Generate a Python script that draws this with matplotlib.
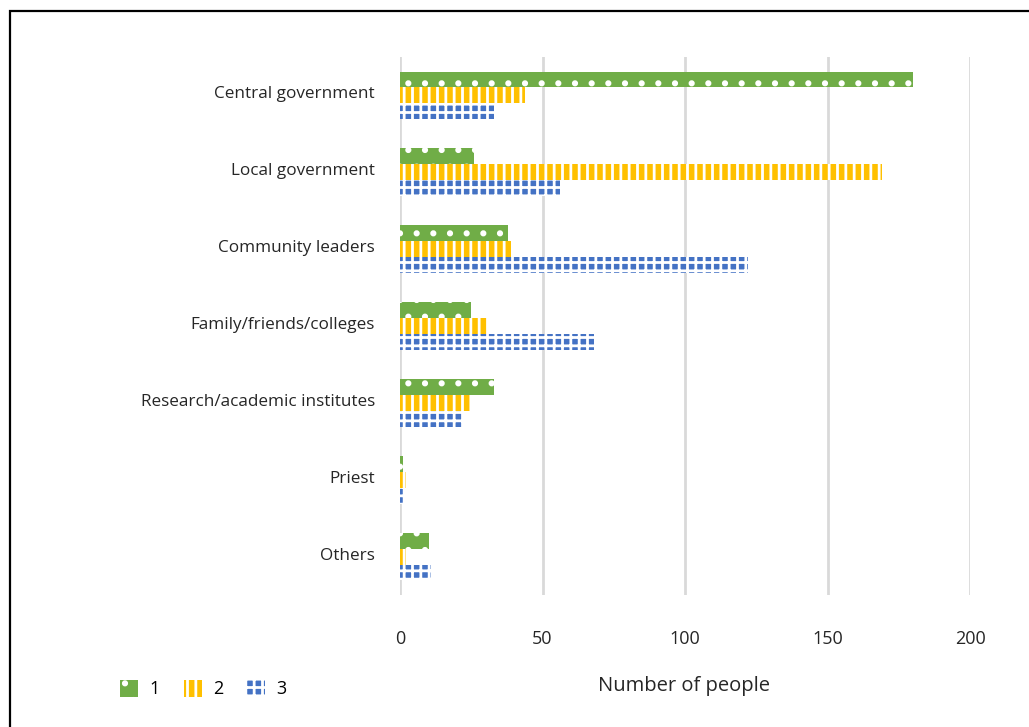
import numpy as np
import matplotlib.pyplot as plt
import matplotlib.transforms as mtransforms
from matplotlib.patches import Rectangle

plt.rcParams['font.family'] = ['Open Sans', 'DejaVu Sans']
plt.rcParams['hatch.linewidth'] = 2.0

categories = ['Central government', 'Local government', 'Community leaders',
              'Family/friends/colleges', 'Research/academic institutes',
              'Priest', 'Others']
series_names = ['1', '2', '3']
values_1 = [180, 26, 38, 25, 33, 1, 10]
values_2 = [44, 169, 39, 31, 25, 2, 2]
values_3 = [33, 56, 122, 68, 22, 1, 11]

green = '#70AD47'
orange = '#FFC000'
blue = '#4472C4'

fig = plt.figure(figsize=(10.29, 7.27), dpi=100)
ax = fig.add_axes([400 / 1029, 1 - 595 / 727, 570 / 1029, 538 / 727])

y = np.arange(len(categories))
h = 0.207

ax.barh(y - h, values_1, h, color=green, edgecolor='white', linewidth=0,
        hatch='.', label=series_names[0], zorder=3)
ax.barh(y, values_2, h, color=orange, edgecolor='white', linewidth=0,
        hatch='||', label=series_names[1], zorder=3)
ax.barh(y + h, values_3, h, color=blue, edgecolor='white', linewidth=0,
        hatch='++', label=series_names[2], zorder=3)

ax.set_xlim(0, 200)
ax.set_ylim(6.5, -0.5)
ax.set_xticks([0, 50, 100, 150, 200])
ax.set_yticks(y)
ax.set_yticklabels(categories, fontsize=12.3)
ax.tick_params(axis='both', length=0, colors='#262626')
ax.tick_params(axis='x', pad=25, labelsize=13)
ax.tick_params(axis='y', pad=18)
# category names sit a little above the middle of their group
lift = mtransforms.ScaledTranslation(0, 3 / 100, fig.dpi_scale_trans)
for lbl in ax.get_yticklabels():
    lbl.set_transform(lbl.get_transform() + lift)
ax.grid(axis='x', color='#d9d9d9', linewidth=2, zorder=0)
for s in ax.spines.values():
    s.set_visible(False)

fig.text(684 / 1029, 1 - 686 / 727, 'Number of people', ha='center', va='center',
         fontsize=14.5, color='#262626')

fig.legend(loc='center left', bbox_to_anchor=(104 / 1029, 1 - 689 / 727),
           ncol=3, frameon=False, fontsize=13, handlelength=1.0, handleheight=1.1,
           handletextpad=0.6, columnspacing=1.35)

# outer frame, open towards the right and bottom edges
fig.add_artist(Rectangle((9.5 / 1029, -0.2), 1.2, 1.2 - 10.5 / 727,
                         transform=fig.transFigure, fill=False,
                         edgecolor='black', linewidth=1.6, clip_on=False))

fig.savefig('out.png', dpi=100)
